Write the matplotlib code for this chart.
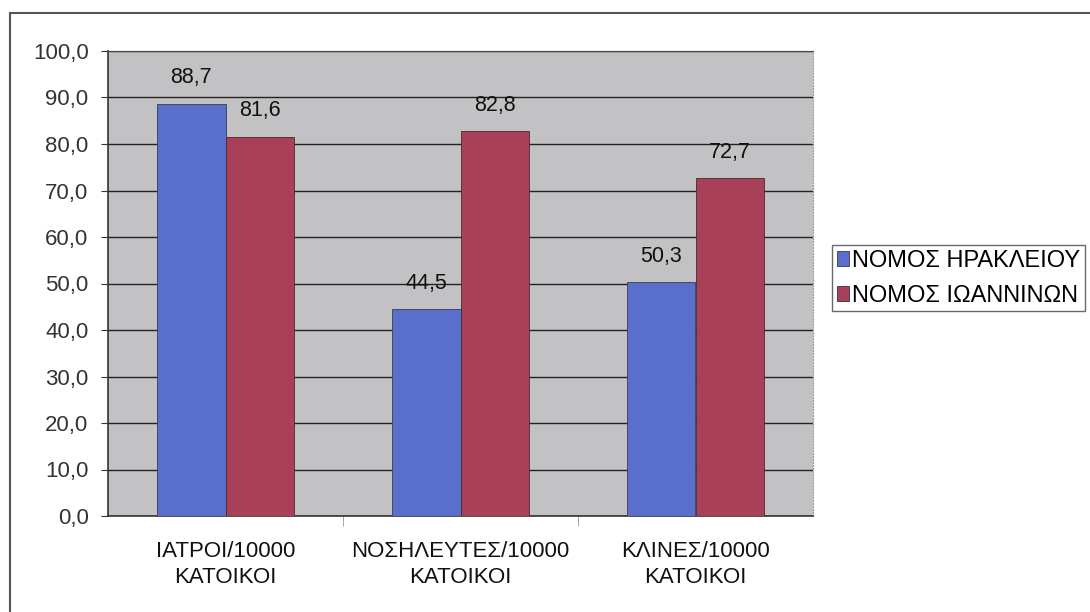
import numpy as np
import matplotlib
matplotlib.use('Agg')
import matplotlib.pyplot as plt
from matplotlib.lines import Line2D

categories = ['ΙΑΤΡΟΙ/10000\nΚΑΤΟΙΚΟΙ', 'ΝΟΣΗΛΕΥΤΕΣ/10000\nΚΑΤΟΙΚΟΙ', 'ΚΛΙΝΕΣ/10000\nΚΑΤΟΙΚΟΙ']
heraklion = [88.7, 44.5, 50.3]
ioannina = [81.6, 82.8, 72.7]
series_names = ['ΝΟΜΟΣ ΗΡΑΚΛΕΙΟΥ', 'ΝΟΜΟΣ ΙΩΑΝΝΙΝΩΝ']
yticks = np.arange(0, 101, 10)

plt.rcParams['font.family'] = ['Liberation Sans', 'DejaVu Sans']

fig = plt.figure(figsize=(10.9, 6.12), dpi=100)
fig.patch.set_facecolor('white')

# outer chart frame (top and left edges only, rest is cut off)
fig.add_artist(Line2D([10/1090, 1.0], [1 - 13/612, 1 - 13/612], color='#555555', lw=1.5))
fig.add_artist(Line2D([10/1090, 10/1090], [0, 1 - 13/612], color='#555555', lw=1.5))

ax = fig.add_axes([108/1090, 96/612, 705/1090, 465/612])
ax.set_facecolor('#c2c2c5')

x = np.arange(len(categories))
w = 0.29
blue = '#5a6fcb'
red = '#a8405a'
b1 = ax.bar(x - w/2, heraklion, w, color=blue, edgecolor='#3a3a55', linewidth=0.6, label=series_names[0], zorder=3)
b2 = ax.bar(x + w/2, ioannina, w, color=red, edgecolor='#4a2a30', linewidth=0.6, label=series_names[1], zorder=3)

for bars, vals in ((b1, heraklion), (b2, ioannina)):
    for rect, v in zip(bars, vals):
        ax.annotate(f'{v:.1f}'.replace('.', ','),
                    xy=(rect.get_x() + rect.get_width()/2, v),
                    xytext=(0, 11), textcoords='offset points',
                    ha='center', va='bottom', fontsize=15.5, color='#111111')

ax.set_xlim(-0.5, len(categories) - 0.5)
ax.set_ylim(0, 100)
ax.set_yticks(yticks)
ax.set_yticklabels([f'{t:.1f}'.replace('.', ',') for t in yticks], fontsize=16, color='#333333')
ax.yaxis.grid(True, color='#222222', linewidth=1.0, zorder=1)
ax.set_axisbelow(True)

ax.set_xticks(x)
ax.set_xticklabels(categories, fontsize=16, color='#111111', linespacing=1.3)
ax.tick_params(axis='x', length=0, pad=18)
ax.set_xticks(np.arange(0.5, len(categories) - 0.5, 1), minor=True)
ax.tick_params(axis='x', which='minor', length=7, color='#999999')
ax.tick_params(axis='y', length=5, color='#333333', pad=9)

for side in ('left', 'bottom'):
    ax.spines[side].set_color('#333333')
    ax.spines[side].set_linewidth(1.2)
ax.spines['top'].set_color('#444444')
ax.spines['right'].set_color('#999999')
ax.spines['right'].set_linestyle(':')

leg = fig.legend(handles=[b1, b2], loc='upper left', bbox_to_anchor=(832/1090, 1 - 245/612),
                 fontsize=17, frameon=True, fancybox=False, edgecolor='#444444',
                 handlelength=0.5, handleheight=0.6, handletextpad=0.15,
                 borderpad=0.2, labelspacing=0.55, borderaxespad=0)
leg.get_frame().set_linewidth(1.0)

fig.savefig('out.png', dpi=100)
